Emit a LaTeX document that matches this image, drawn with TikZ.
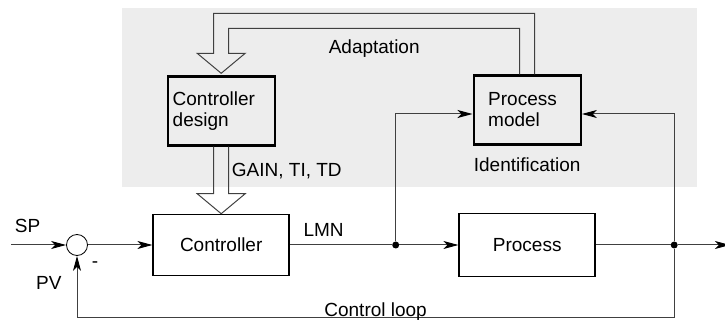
\documentclass[tikz,border=0pt]{standalone}
\usepackage{fontspec}
\setmainfont{Liberation Sans}
\usepackage{tikz}
\usetikzlibrary{positioning,arrows.meta,calc}
\tikzset{
    adaptblock/.style={draw, line width=1.6pt, minimum width=136pt, minimum height=61pt, align=center},
    adaptmodel/.style={draw, line width=2.4pt, minimum width=107pt, minimum height=69pt, align=left, text width=97pt, inner xsep=5pt},
    adaptsum/.style={draw, circle, line width=0.8pt, minimum size=21pt, inner sep=0pt},
    adaptdot/.style={circle, fill=black, minimum size=7pt, inner sep=0pt},
    adaptarrow/.style={draw, line width=1pt, color=black!75, -{Stealth[length=15pt, width=8pt, inset=4pt, color=black]}},
    adaptline/.style={draw, line width=1pt, color=black!75},
    adapthollow/.style={draw, line width=1pt, color=black!75, line join=miter},
    adaptlabel/.style={inner sep=3pt, text=black},
    adaptzone/.style={fill=black!7}
}

\begin{document}
\begin{tikzpicture}[x=1pt, y=1pt, font=\fontsize{19}{21}\selectfont]
    \useasboundingbox (0,0) rectangle (725,321);
    \fill[adaptzone] (122,134) rectangle (697,313);

    \node[adaptsum] (sum) at (77,76) {};
    \coordinate[left=55pt of sum] (in);
    \node[adaptblock, right=64.5pt of sum] (ctrl) {Controller};
    \node[adaptdot, right=102pt of ctrl] (tap) {};
    \node[adaptblock, minimum height=63pt, right=59pt of tap] (proc) {Process};
    \node[adaptdot, right=74.5pt of proc] (meas) {};
    \coordinate[right=52pt of meas] (out);
    \node[adaptmodel, above=67pt of ctrl] (design) {Controller\\design};
    \node[adaptmodel, text width=78pt, inner xsep=14pt, above=67pt of proc] (pmodel) {Process\\model};

    \node[adaptlabel, below=9pt of pmodel] (ident) {Identification};
    \path (design.north east) -- node[adaptlabel, yshift=26pt] (adapt) {Adaptation} (pmodel.north west);
    \node[adaptlabel, anchor=west] (gain) at ($(design.south)+(7.5,-24)$) {GAIN, TI, TD};
    \node[adaptlabel, below right=6pt and 4pt of sum] (minus) {-};

    \draw[adaptarrow] (in) -- node[adaptlabel, pos=0.3, above=9pt] (sp) {SP} (sum);
    \draw[adaptarrow] (sum) -- (ctrl);
    \draw[adaptline] (ctrl) -- node[adaptlabel, pos=0.33, above=5pt] (lmn) {LMN} (tap);
    \draw[adaptarrow] (tap) -- (proc);
    \draw[adaptline] (proc) -- (meas);
    \draw[adaptarrow] (meas) -- (out);
    \draw[adaptarrow] (tap) |- ([yshift=-4pt]pmodel.west);
    \draw[adaptarrow] (meas) |- ([yshift=-4pt]pmodel.east);
    \draw[adaptarrow] (meas) -- ++(0,-73) -| node[adaptlabel, pos=0.25, anchor=base, yshift=2pt] (loop) {Control loop} node[adaptlabel, pos=0.78, left=12pt] (pv) {PV} (sum);

    \draw[adapthollow] ($(design.south)+(-7.5,0)$) |- ($(ctrl.north)+(-24,20)$) -- (ctrl.north) -- ($(ctrl.north)+(24,20)$) -| ($(design.south)+(7.5,0)$);
    \draw[adapthollow] ($(pmodel.north)+(7.5,0)$) |- ($(design.north)+(-7.5,62)$) -- ($(design.north)+(-7.5,22)$) -- ($(design.north)+(-24,22)$) -- ($(design.north)+(0,2)$) -- ($(design.north)+(24,22)$) -- ($(design.north)+(7.5,22)$) |- ($(pmodel.north)+(-7.5,46)$) -- ($(pmodel.north)+(-7.5,0)$);
\end{tikzpicture}
\end{document}
